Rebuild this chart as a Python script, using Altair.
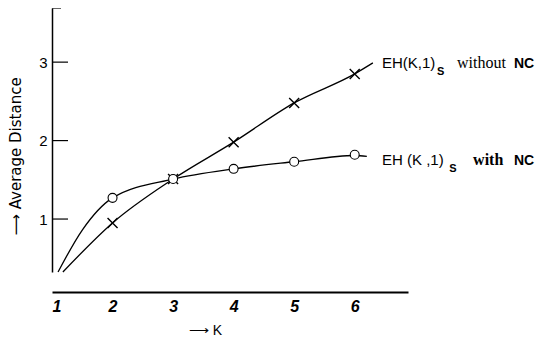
import altair as alt
import pandas as pd

# ---- data ----
k_values = [2, 3, 4, 5, 6]
without_nc = [0.95, 1.51, 1.98, 2.48, 2.85]
with_nc = [1.27, 1.51, 1.64, 1.73, 1.82]

# smooth hand-drawn curves (include curve ends, no markers there)
without_curve_k = [1.18, 2, 3, 4, 5, 6, 6.3]
without_curve_v = [0.325, 0.95, 1.51, 1.98, 2.48, 2.85, 2.99]
with_curve_k = [1.10, 1.5, 2, 3, 4, 5, 6, 6.2]
with_curve_v = [0.325, 0.86, 1.27, 1.51, 1.64, 1.73, 1.81, 1.80]

x_ticks = [1, 2, 3, 4, 5, 6]
y_ticks = [1, 2, 3]
x_domain = [1, 6.88]
y_domain = [0.325, 3.69]

# annotation pieces (data coordinates)
sans_text = ["EH(K,1)", "EH (K ,1)"]
sans_k = [6.45, 6.45]
sans_v = [2.925, 1.689]
sub_text = ["S", "S"]
sub_k = [7.36, 7.56]
sub_v = [2.836, 1.600]
serif_text = ["without"]
serif_k = [7.69]
serif_v = [2.925]
serif_bold_text = ["with"]
serif_bold_k = [7.955]
serif_bold_v = [1.689]
nc_text = ["NC", "NC"]
nc_k = [8.63, 8.63]
nc_v = [2.925, 1.689]

# ---- scales / axes ----
xs = alt.Scale(domain=x_domain, nice=False, zero=False)
ys = alt.Scale(domain=y_domain, nice=False, zero=False)

x_axis = alt.Axis(values=x_ticks, format="d", title="⟶ K", offset=20, ticks=False,
                  grid=False, domainWidth=2.2, domainColor="black",
                  labelFont="Liberation Sans", labelFontWeight="bold",
                  labelFontStyle="italic", labelFontSize=16, labelPadding=6,
                  labelColor="black", titleFont="Liberation Sans",
                  titleFontWeight="normal", titleFontSize=14, titleColor="black",
                  titleX=153, titleY=38, titleBaseline="middle", titleAlign="center")
y_axis = alt.Axis(values=y_ticks, format="d", title="⟶ Average  Distance", ticks=False,
                  grid=False, domainWidth=1.5, domainColor="black",
                  labelFont="Liberation Sans", labelFontSize=15, labelPadding=5,
                  labelColor="black", titleFont="DejaVu Sans", titleFontSize=15,
                  titleFontWeight="normal", titleColor="black",
                  titleX=-37, titleY=148, titleAngle=270,
                  titleBaseline="middle", titleAlign="center")

X = alt.X("k:Q", scale=xs, axis=x_axis)
Y = alt.Y("v:Q", scale=ys, axis=y_axis)

df_without_curve = pd.DataFrame({"k": without_curve_k, "v": without_curve_v})
df_with_curve = pd.DataFrame({"k": with_curve_k, "v": with_curve_v})
df_without = pd.DataFrame({"k": k_values, "v": without_nc})
df_with = pd.DataFrame({"k": k_values, "v": with_nc})
df_ticks = pd.DataFrame({"v": y_ticks})
df_top = pd.DataFrame({"v": [y_domain[1]]})

line_without = alt.Chart(df_without_curve).mark_line(
    color="black", strokeWidth=1.3, interpolate="monotone").encode(x=X, y=Y)
line_with = alt.Chart(df_with_curve).mark_line(
    color="black", strokeWidth=1.3, interpolate="monotone").encode(x=X, y=Y)

cross_path = "M-1,-1L1,1M-1,1L1,-1"
pts_without = alt.Chart(df_without).mark_point(
    shape=cross_path, size=100, color="black", strokeWidth=1.4, filled=False,
    opacity=1).encode(x=X, y=Y)
pts_with = alt.Chart(df_with).mark_point(
    shape="circle", size=80, stroke="black", fill="white", filled=True,
    strokeWidth=1.1, opacity=1).encode(x=X, y=Y)

ticks = alt.Chart(df_ticks).mark_rule(color="black", strokeWidth=1.2).encode(
    y=Y, x=alt.value(0), x2=alt.value(16))
top_tick = alt.Chart(df_top).mark_rule(color="black", strokeWidth=1.2).encode(
    y=Y, x=alt.value(0), x2=alt.value(9))


def text_layer(texts, ks, vs, **kw):
    d = pd.DataFrame({"k": ks, "v": vs, "label": texts})
    return alt.Chart(d).mark_text(align="left", baseline="alphabetic",
                                  color="black", **kw).encode(x=X, y=Y, text="label:N")


t_sans = text_layer(sans_text, sans_k, sans_v, font="Liberation Sans", fontSize=15)
t_sub = text_layer(sub_text, sub_k, sub_v, font="Liberation Sans", fontSize=11,
                   fontWeight="bold")
t_serif = text_layer(serif_text, serif_k, serif_v, font="Liberation Serif", fontSize=16)
t_serif_b = text_layer(serif_bold_text, serif_bold_k, serif_bold_v,
                       font="Liberation Serif", fontSize=16, fontWeight="bold")
t_nc = text_layer(nc_text, nc_k, nc_v, font="Liberation Sans", fontSize=14,
                  fontWeight="bold")

chart = alt.layer(
    ticks, top_tick, line_without, line_with, pts_without, pts_with,
    t_sans, t_sub, t_serif, t_serif_b, t_nc
).properties(
    width=356, height=264,
    autosize=alt.AutoSizeParams(type="none"),
    padding={"left": 44, "top": 0, "right": 129, "bottom": 66},
    background="white",
).configure_view(stroke=None)

chart.save("out.html", embed_options={"renderer": "svg", "actions": False})
